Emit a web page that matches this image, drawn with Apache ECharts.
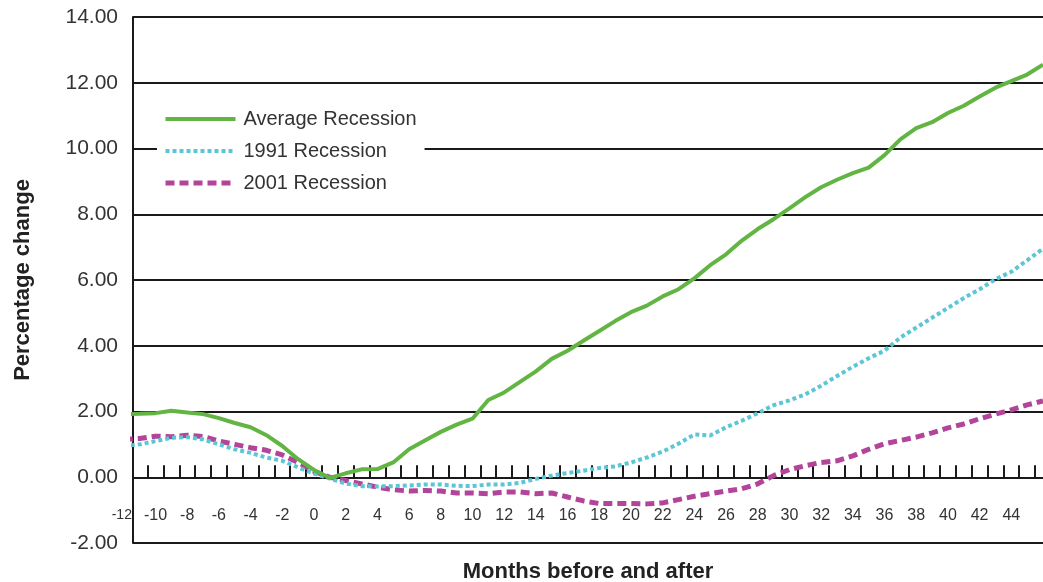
<!DOCTYPE html>
<html>
<head>
<meta charset="utf-8">
<script src="https://cdn.jsdelivr.net/npm/echarts@6/dist/echarts.min.js"></script>
<style>
html,body{margin:0;padding:0;background:#fff;}
#chart{width:1043px;height:582px;}
</style>
</head>
<body>
<div id="chart"></div>
<script>
// Months before and after the recession trough
const months = [-12,-11,-10,-9,-8,-7,-6,-5,-4,-3,-2,-1,0,1,2,3,4,5,6,7,8,9,10,11,12,13,14,15,16,17,18,19,20,21,22,23,24,25,26,27,28,29,30,31,32,33,34,35,36,37,38,39,40,41,42,43,44,45,46];

const averageRecession = [1.92,1.93,1.95,2.02,1.97,1.92,1.80,1.65,1.52,1.28,0.95,0.55,0.22,-0.02,0.12,0.24,0.25,0.45,0.85,1.12,1.38,1.60,1.78,2.35,2.58,2.90,3.22,3.60,3.85,4.15,4.45,4.75,5.02,5.22,5.50,5.72,6.05,6.45,6.78,7.20,7.55,7.85,8.18,8.52,8.82,9.05,9.25,9.42,9.80,10.28,10.62,10.80,11.08,11.30,11.58,11.85,12.05,12.25,12.55];

const recession1991 = [0.95,1.00,1.10,1.20,1.22,1.15,1.00,0.85,0.74,0.60,0.50,0.30,0.11,-0.04,-0.19,-0.27,-0.28,-0.27,-0.25,-0.22,-0.22,-0.26,-0.27,-0.22,-0.22,-0.17,-0.05,0.05,0.13,0.20,0.28,0.33,0.45,0.60,0.78,1.02,1.30,1.27,1.52,1.72,1.95,2.19,2.34,2.52,2.78,3.08,3.36,3.62,3.85,4.25,4.55,4.85,5.15,5.45,5.72,6.02,6.25,6.60,6.95];

const recession2001 = [1.15,1.18,1.25,1.23,1.28,1.24,1.10,1.00,0.90,0.82,0.68,0.45,0.18,0.00,-0.10,-0.20,-0.30,-0.38,-0.42,-0.40,-0.42,-0.48,-0.48,-0.50,-0.45,-0.45,-0.50,-0.48,-0.60,-0.72,-0.80,-0.80,-0.80,-0.81,-0.78,-0.68,-0.58,-0.50,-0.42,-0.35,-0.20,0.05,0.23,0.35,0.45,0.50,0.65,0.85,1.02,1.12,1.22,1.35,1.50,1.62,1.78,1.92,2.05,2.20,2.32];

const xTickLabels = [-12,-10,-8,-6,-4,-2,0,2,4,6,8,10,12,14,16,18,20,22,24,26,28,30,32,34,36,38,40,42,44];
const xTickMarks = [-10.5,-9.5,-8.5,-7.5,-6.5,-5.5,-4.5,-3.5,-2.5,-1.5,-0.5,0.5,1.5,2.5,3.5,4.5,5.5,6.5,7.5,8.5,9.5,10.5,11.5,12.5,13.5,14.5,15.5,16.5,17.5,18.5,19.5,20.5,21.5,22.5,23.5,24.5,25.5,26.5,27.5,28.5,29.5,30.5,31.5,32.5,33.5,34.5,35.5,36.5,37.5,38.5,39.5,40.5,41.5,42.5,43.5,44.5,45.5];

const seriesNames = ['Average Recession','1991 Recession','2001 Recession'];

const pair = arr => months.map((m,i)=>[m,arr[i]]);

const X_MIN = -11.42, X_MAX = 46;
const font = 'Liberation Sans, Arial, sans-serif';
const colors = ['#62b543','#5cc6d6','#b2449a'];
const lineStyles = [
  {color:colors[0], width:4, type:'solid'},
  {color:colors[1], width:4, type:[4,3]},
  {color:colors[2], width:5, type:[9,5]}
];

const chart = echarts.init(document.getElementById('chart'), null, {renderer:'canvas'});
const option = {
  backgroundColor:'#fff',
  animation:false,
  grid:{left:133, right:0, top:17, bottom:39, containLabel:false, outerBoundsMode:'none'},
  legend:{
    orient:'vertical',
    left:157, top:99,
    backgroundColor:'#fff',
    padding:[10,8,10,6],
    itemWidth:70, itemHeight:14, itemGap:12,
    itemStyle:{opacity:0},
    textStyle:{fontFamily:font, fontSize:20, color:'#333', padding:[0,0,0,3]},
    data:seriesNames.map((n,i)=>({name:n, lineStyle:lineStyles[i]}))
  },
  xAxis:{
    type:'value', min:X_MIN, max:X_MAX,
    name:'Months before and after', nameLocation:'middle', nameGap:18,
    nameTextStyle:{fontFamily:font, fontSize:22, fontWeight:'bold', color:'#222'},
    axisLine:{onZero:true, lineStyle:{color:'#1a1a1a', width:2}},
    axisTick:{show:true, inside:true, length:12, customValues:xTickMarks, lineStyle:{color:'#1a1a1a', width:2}},
    axisLabel:{customValues:xTickLabels.filter(v=>v>X_MIN), margin:-35, fontFamily:font, fontSize:16, color:'#333'},
    splitLine:{show:false}
  },
  yAxis:{
    type:'value', min:-2, max:14, interval:2,
    name:'Percentage change', nameLocation:'middle', nameGap:99,
    nameTextStyle:{fontFamily:font, fontSize:22, fontWeight:'bold', color:'#222'},
    axisLine:{show:true, onZero:false, lineStyle:{color:'#1a1a1a', width:2}},
    axisTick:{show:false},
    axisLabel:{formatter:v=>v.toFixed(2), margin:15, fontFamily:font, fontSize:21, color:'#333'},
    splitLine:{show:true, lineStyle:{color:'#1a1a1a', width:2}}
  },
  series:seriesNames.map((n,i)=>({
    name:n, type:'line', symbol:'none', smooth:false,
    data:pair([averageRecession, recession1991, recession2001][i]),
    lineStyle:lineStyles[i], itemStyle:{color:colors[i]}, z:5-i
  }))
};
chart.setOption(option);

// the first category label (-12) sits just left of the plot area
const px = chart.convertToPixel({xAxisIndex:0, yAxisIndex:0}, [xTickLabels[0], 0]);
chart.setOption({graphic:[{type:'text', x:px[0]-2, y:px[1]+31, style:{text:String(xTickLabels[0]), fontFamily:font, fontSize:14, fill:'#333', align:'center', verticalAlign:'top'}}]});
</script>
</body>
</html>
